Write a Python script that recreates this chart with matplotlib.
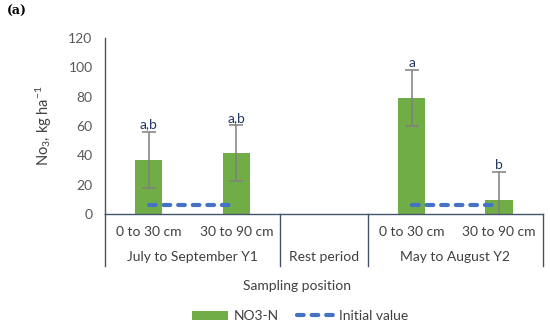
import numpy as np
import matplotlib.pyplot as plt
from matplotlib.patches import Patch
from matplotlib.lines import Line2D

# data
depths = ["0 to 30 cm", "30 to 90 cm", "", "0 to 30 cm", "30 to 90 cm"]
groups = ["July to September Y1", "Rest period", "May to August Y2"]
group_spans = [(0, 1), (2, 2), (3, 4)]
no3 = [37, 41.5, np.nan, 79, 9.5]
no3_err = [19, 19, 0, 19, 19]
initial = [6, 6, np.nan, 6, 6]
letters = ["a,b", "a,b", "", "a", "b"]

plt.rcParams['font.family'] = ['Lato', 'DejaVu Sans']
plt.rcParams['mathtext.fontset'] = 'custom'
plt.rcParams['mathtext.rm'] = 'Lato'
plt.rcParams['mathtext.it'] = 'Lato:italic'

fig = plt.figure(figsize=(5.5, 3.28), dpi=100)
ax = fig.add_axes([0.191, 0.3476, 0.796, 0.5364])

x = np.arange(len(depths))
mask = ~np.isnan(no3)
ax.bar(x[mask], np.array(no3)[mask], width=0.31, color='#70AD47', zorder=2)
ax.errorbar(x[mask], np.array(no3)[mask], yerr=np.array(no3_err)[mask], fmt='none',
            ecolor='#7F7F7F', elinewidth=1.1, capsize=5, capthick=1.1, zorder=3)
ax.plot(x, initial, color='#4472C4', lw=3, dashes=(1.6, 1.9),
        dash_capstyle='round', zorder=4)

for xi, v, e, t in zip(x, no3, no3_err, letters):
    if t:
        ax.text(xi, v + e + 1, t, ha='center', va='bottom', fontsize=10,
                color='#1F3864')

ax.set_xlim(-0.5, len(depths) - 0.5)
ax.set_ylim(0, 120)
ax.set_yticks(range(0, 121, 20))
ax.set_xticks([])
ax.tick_params(axis='y', length=0, labelsize=10, labelcolor='#595959', pad=9)
for s in ['top', 'right']:
    ax.spines[s].set_visible(False)
for s in ['left', 'bottom']:
    ax.spines[s].set_color('#44546A')
    ax.spines[s].set_linewidth(1.0)

trans = ax.get_xaxis_transform()
for xi, d in zip(x, depths):
    if d:
        ax.text(xi, -0.105, d, transform=trans, ha='center', va='center',
                fontsize=10, color='#404040')
for (a, b), g in zip(group_spans, groups):
    ax.text((a + b) / 2, -0.245, g, transform=trans, ha='center', va='center',
            fontsize=10, color='#404040')
for xb in [-0.5, 1.5, 2.5, 4.5]:
    ax.plot([xb, xb], [0, -0.295], transform=trans, color='#44546A', lw=1.0,
            clip_on=False)

fig.text(0.54, 1 - 286 / 328, "Sampling position", ha='center', va='center',
         fontsize=10, color='#404040')
ax.set_ylabel("No$_3$, kg ha$^{-1}$", fontsize=10.5, color='#404040', labelpad=10)

fig.text(0.012, 0.965, "(a)", fontsize=9, fontweight='bold',
         family='DejaVu Serif', va='center')

handles = [Patch(facecolor='#70AD47'),
           Line2D([0], [0], color='#4472C4', lw=3, dashes=(1.6, 1.9),
                  dash_capstyle='round')]
fig.legend(handles, ["NO3-N", "Initial value"], loc='center', ncol=2,
           bbox_to_anchor=(300 / 550, 1 - 316 / 328), frameon=False,
           fontsize=10, handlelength=2.6, handleheight=0.6, handletextpad=0.4,
           columnspacing=1.3, labelcolor='#404040')

fig.savefig("out.png", dpi=100)
